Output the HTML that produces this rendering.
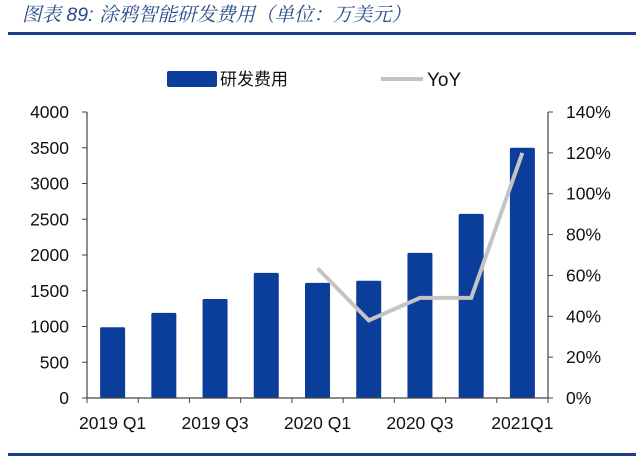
<!DOCTYPE html>
<html><head><meta charset="utf-8"><style>
body{margin:0;background:#fff;width:640px;height:458px;overflow:hidden}
svg{display:block;font-family:"Liberation Sans","Noto Sans CJK SC",sans-serif}
</style></head><body>
<svg id="c" width="640" height="458" viewBox="0 0 640 458">
<text x="22" y="21" font-size="19.5" font-style="italic" fill="#2a4a8a" font-family="'Liberation Sans','Noto Serif CJK SC',serif">图表 89: 涂鸦智能研发费用（单位：万美元）</text>
<rect x="8" y="32" width="628" height="3" fill="#1f3c88"/>
<rect x="8" y="453" width="628" height="3" fill="#1f3c88"/>
<rect x="167" y="71" width="50" height="16" rx="2" fill="#0b3d9b"/>
<text x="220" y="85" font-size="17" fill="#111">研发费用</text>
<line x1="381" y1="79" x2="423" y2="79" stroke="#c4c4c4" stroke-width="4"/>
<text x="427" y="86" font-size="19" fill="#111">YoY</text>
<g id="plot"></g>
</svg>
<script>
const categories=["2019 Q1","2019 Q2","2019 Q3","2019 Q4","2020 Q1","2020 Q2","2020 Q3","2020 Q4","2021Q1"];
const rdValues=[990,1190,1385,1750,1610,1640,2030,2575,3500];
const yoyValues=[null,null,null,null,63.5,38,49,49,120];
const leftTicks=[0,500,1000,1500,2000,2500,3000,3500,4000];
const rightTicks=[0,20,40,60,80,100,120,140];
const xLabels=["2019 Q1","2019 Q3","2020 Q1","2020 Q3","2021Q1"];
const NS="http://www.w3.org/2000/svg";
const g=document.getElementById('plot');
const X0=87,X1=548,Y0=398,Y1=112;
const step=(X1-X0)/categories.length;
const xc=i=>X0+step*(i+0.5);
const yL=v=>Y0-(v/4000)*(Y0-Y1);
const yR=v=>Y0-(v/140)*(Y0-Y1);
function mk(t,a){const e=document.createElementNS(NS,t);for(const k in a)e.setAttribute(k,a[k]);g.appendChild(e);return e;}
rdValues.forEach((v,i)=>{
 const r=mk('rect',{x:xc(i)-12.5,y:yL(v),width:25,height:Y0-yL(v),fill:'#0b3d9b',rx:1.5});
 
 
});
let pts=[];yoyValues.forEach((v,i)=>{if(v!==null)pts.push(xc(i)+','+yR(v));});
const pl=mk('polyline',{points:pts.join(' '),fill:'none',stroke:'#c4c4c4','stroke-width':4,'stroke-linejoin':'miter'});


const ax=mk('path',{d:`M${X0},${Y1} V${Y0} H${X1} V${Y1}`,fill:'none',stroke:'#444','stroke-width':1.2});


for(let i=0;i<=categories.length;i++){const t=mk('line',{x1:X0+step*i,x2:X0+step*i,y1:Y0,y2:Y0+5,stroke:'#444'});

}
leftTicks.forEach(v=>{
 const t=mk('line',{x1:X0-5,x2:X0,y1:yL(v),y2:yL(v),stroke:'#444'});
 
 
 const l=mk('text',{x:X0-18,y:yL(v)+6,'font-size':17.5,'text-anchor':'end',fill:'#111'});l.textContent=v;
 
 
});
rightTicks.forEach(v=>{
 const t=mk('line',{x1:X1,x2:X1+5,y1:yR(v),y2:yR(v),stroke:'#444'});
 
 
 const l=mk('text',{x:X1+18,y:yR(v)+6,'font-size':17.5,fill:'#111'});l.textContent=v+'%';
 
 
});
xLabels.forEach(s=>{
 const i=categories.indexOf(s);
 const l=mk('text',{x:xc(i),y:Y0+31,'font-size':17.5,'text-anchor':'middle',fill:'#111'});l.textContent=s;
 
 
});
</script>
</body></html>
